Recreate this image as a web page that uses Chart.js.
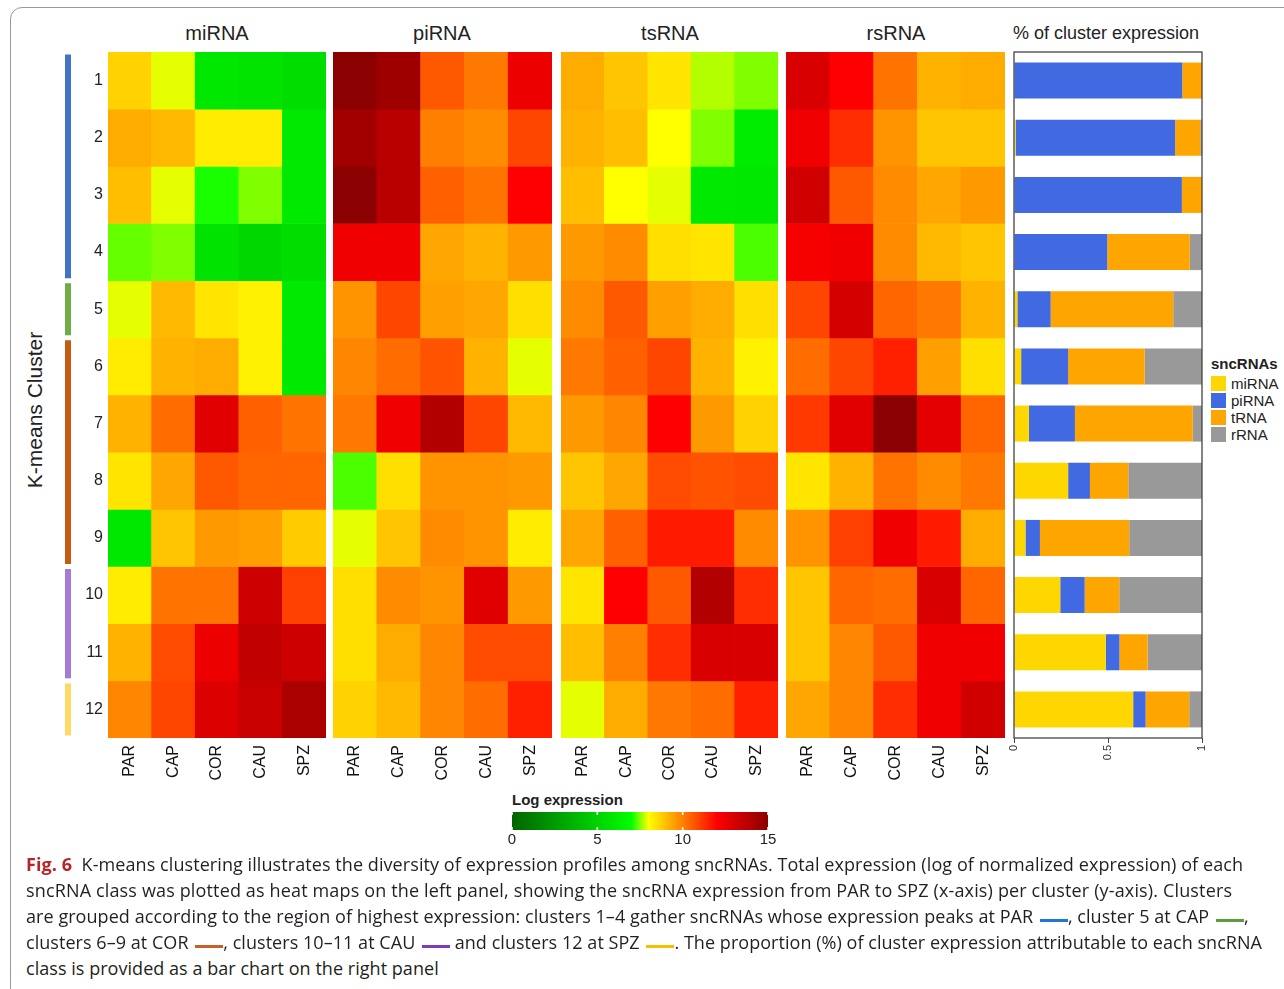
<!DOCTYPE html>
<html lang="en">
<head>
<meta charset="UTF-8">
<title>Fig. 6 K-means clusters of sncRNA expression</title>
<script src="https://cdn.jsdelivr.net/npm/chart.js"></script>
<style>
  body { margin: 0; width: 1284px; height: 989px; overflow: hidden; background: #fff; position: relative; font-family: "Liberation Sans", Arial, sans-serif; color: #222; }
  .frame { position: absolute; left: 10px; top: 7px; width: 1320px; height: 1020px; border: 1px solid #9a9a9a; border-radius: 12px; }
  .abs { position: absolute; }
  canvas { position: absolute; }
  .ptitle { position: absolute; top: 22px; font-size: 20px; text-align: center; width: 218px; }
  .ylab { position: absolute; left: 35px; top: 410px; font-size: 21px; transform: translate(-50%, -50%) rotate(-90deg); white-space: nowrap; }
  .legend { position: absolute; left: 1211px; top: 355px; font-size: 15px; line-height: 17px; }
  .legend b { display: block; margin-bottom: 3px; }
  .legend span.sw { display: inline-block; width: 15px; height: 15px; vertical-align: -2px; margin-right: 5px; }
  .cap { position: absolute; left: 26px; white-space: nowrap; font-family: "Open Sans", sans-serif; font-size: 18px; line-height: 26px; color: #231f20; }
  .cap .fig { color: #b5262b; font-weight: bold; }
  .cap .ln { display: inline-block; width: 28px; height: 3px; vertical-align: 1px; margin-left: 2px; }
</style>
</head>
<body>
<div class="frame"></div>

<div class="ptitle" style="left:108px">miRNA</div>
<div class="ptitle" style="left:333px">piRNA</div>
<div class="ptitle" style="left:561px">tsRNA</div>
<div class="ptitle" style="left:787px">rsRNA</div>
<div class="abs" style="left:1013px; top:23px; font-size:18px;">% of cluster expression</div>
<div class="ylab">K-means Cluster</div>
<div class="legend" id="legend"><b>sncRNAs</b></div>
<div class="abs" style="left:512px; top:791px; font-size:15px; font-weight:bold;">Log expression</div>

<canvas id="groups" width="6" height="686" style="left:65px; top:52px"></canvas>
<canvas id="hm0" width="263" height="736" style="left:63px; top:52px"></canvas>
<canvas id="hm1" width="219" height="736" style="left:333px; top:52px"></canvas>
<canvas id="hm2" width="217" height="736" style="left:561px; top:52px"></canvas>
<canvas id="hm3" width="219" height="736" style="left:786px; top:52px"></canvas>
<canvas id="share" width="204" height="720" style="left:1006px; top:50px"></canvas>
<canvas id="cbar" width="272" height="42" style="left:504px; top:812px"></canvas>

<div class="cap" style="top:851px" data-w="1217"><span class="fig">Fig. 6</span>&nbsp; K-means clustering illustrates the diversity of expression profiles among sncRNAs. Total expression (log of normalized expression) of each</div>
<div class="cap" style="top:877px" data-w="1206">sncRNA class was plotted as heat maps on the left panel, showing the sncRNA expression from PAR to SPZ (x-axis) per cluster (y-axis). Clusters</div>
<div class="cap" style="top:903px" data-w="1223">are grouped according to the region of highest expression: clusters 1–4 gather sncRNAs whose expression peaks at PAR <span class="ln" style="background:#1f78d1"></span>, cluster 5 at CAP <span class="ln" style="background:#5b9c3d"></span>,</div>
<div class="cap" style="top:929px" data-w="1236">clusters 6–9 at COR <span class="ln" style="background:#c8602a"></span>, clusters 10–11 at CAU <span class="ln" style="background:#7d3cb8"></span> and clusters 12 at SPZ <span class="ln" style="background:#f5c000"></span>. The proportion (%) of cluster expression attributable to each sncRNA</div>
<div class="cap" style="top:955px" data-w="413">class is provided as a bar chart on the right panel</div>

<script>
// regions along the duct and the 12 k-means clusters
const regions = ['PAR', 'CAP', 'COR', 'CAU', 'SPZ'];
const clusters = ['1', '2', '3', '4', '5', '6', '7', '8', '9', '10', '11', '12'];

// log expression, one row per cluster, one column per region
const miRNA = [
  [8.7, 7.9, 5.9, 5.8, 5.5],
  [9.3, 9.1, 8.3, 8.3, 6.0],
  [9.0, 7.9, 7.1, 7.5, 6.0],
  [7.4, 7.5, 5.7, 5.2, 5.5],
  [7.9, 9.1, 8.4, 8.2, 6.0],
  [8.3, 9.2, 9.3, 8.2, 6.0],
  [9.2, 10.3, 12.8, 10.5, 10.2],
  [8.4, 9.4, 10.6, 10.4, 10.4],
  [5.9, 8.9, 9.6, 9.5, 8.8],
  [8.3, 10.2, 10.2, 13.3, 11.0],
  [9.2, 10.8, 12.5, 13.6, 13.3],
  [9.9, 10.9, 12.9, 13.4, 14.2]
];
const piRNA = [
  [15.0, 14.5, 10.6, 10.1, 12.5],
  [14.4, 13.8, 10.0, 9.8, 10.9],
  [15.0, 13.8, 10.5, 10.2, 12.0],
  [12.4, 12.4, 9.4, 9.2, 9.6],
  [9.7, 10.9, 9.5, 9.4, 8.5],
  [9.9, 10.3, 10.7, 9.2, 7.9],
  [10.1, 12.4, 14.0, 10.9, 9.1],
  [7.3, 8.5, 9.7, 9.7, 9.6],
  [7.9, 8.9, 9.8, 9.7, 8.3],
  [8.5, 9.8, 9.7, 12.8, 9.6],
  [8.5, 9.3, 9.9, 10.8, 10.8],
  [8.7, 9.1, 9.9, 10.3, 11.5]
];
const tsRNA = [
  [9.3, 8.9, 8.4, 7.7, 7.5],
  [9.2, 9.0, 8.0, 7.5, 6.2],
  [9.0, 8.0, 7.9, 6.0, 5.9],
  [9.6, 9.8, 8.5, 8.4, 7.3],
  [9.8, 10.6, 9.5, 9.3, 8.5],
  [10.1, 10.5, 10.9, 9.2, 8.2],
  [9.6, 9.9, 12.0, 9.6, 8.7],
  [8.9, 9.4, 10.8, 10.7, 10.8],
  [9.4, 10.5, 11.6, 11.6, 9.8],
  [8.4, 12.0, 10.6, 14.0, 11.3],
  [9.0, 10.0, 11.3, 13.0, 13.0],
  [7.9, 9.3, 10.1, 10.3, 11.5]
];
const rsRNA = [
  [13.0, 12.0, 10.2, 9.2, 9.3],
  [12.4, 11.3, 9.7, 8.9, 8.9],
  [13.2, 10.6, 9.8, 9.4, 9.6],
  [12.2, 12.4, 9.8, 9.1, 8.9],
  [10.9, 13.1, 10.4, 10.1, 9.2],
  [10.3, 10.9, 11.5, 9.5, 8.5],
  [11.1, 12.8, 15.0, 12.7, 10.4],
  [8.4, 9.2, 10.2, 9.8, 10.1],
  [9.7, 11.0, 12.4, 11.6, 9.3],
  [8.9, 10.4, 10.3, 13.0, 10.4],
  [8.9, 9.9, 10.6, 12.4, 12.4],
  [9.4, 9.9, 11.3, 12.4, 13.2]
];

// share of each cluster's expression per sncRNA class
const shareNames = ['miRNA', 'piRNA', 'tRNA', 'rRNA'];
const shareColors = ['#ffd700', '#4169e1', '#ffa500', '#999999'];
const shareMiRNA = [0, 0.009, 0, 0, 0.018, 0.038, 0.079, 0.288, 0.061, 0.246, 0.488, 0.634];
const sharePiRNA = [0.895, 0.848, 0.893, 0.496, 0.177, 0.25, 0.245, 0.116, 0.077, 0.13, 0.073, 0.066];
const shareTRNA = [0.105, 0.134, 0.107, 0.439, 0.652, 0.407, 0.627, 0.204, 0.475, 0.184, 0.15, 0.232];
const shareRRNA = [0, 0.009, 0, 0.066, 0.155, 0.307, 0.05, 0.393, 0.388, 0.44, 0.29, 0.068];
const shareTicks = [0, 0.5, 1];

// cluster groups by region of peak expression (row ranges)
const groupRanges = [[0, 4], [4, 5], [5, 9], [9, 11], [11, 12]];
const groupColors = ['#4472c4', '#70ad47', '#c55a11', '#a57bd4', '#ffd966'];

// colour scale for log expression
const scaleStops = [[0, [0, 100, 0]], [7, [0, 255, 0]], [8, [255, 255, 0]], [12, [255, 0, 0]], [15, [139, 0, 0]]];
const cbarTicks = [0, 5, 10, 15];

function logColor(v) {
  for (let i = 1; i < scaleStops.length; i++) {
    const [v0, c0] = scaleStops[i - 1];
    const [v1, c1] = scaleStops[i];
    if (v <= v1 || i === scaleStops.length - 1) {
      const t = Math.max(0, Math.min(1, (v - v0) / (v1 - v0)));
      const c = c0.map((x, k) => Math.round(x + (c1[k] - x) * t));
      return `rgb(${c[0]},${c[1]},${c[2]})`;
    }
  }
}

Chart.defaults.font.family = '"Liberation Sans", Arial, sans-serif';
Chart.defaults.color = '#222';
const noPlugins = { legend: { display: false }, tooltip: { enabled: false } };

function heatmap(id, values, showRows) {
  const scales = {
    x: {
      stacked: true,
      grid: { display: false, drawTicks: false },
      border: { display: false },
      ticks: { font: { size: 16 }, minRotation: 90, maxRotation: 90, padding: 7, color: '#111' },
      afterFit: s => { s.height = 50; s.paddingLeft = 0; s.paddingRight = 0; }
    },
    y: { stacked: true, reverse: true, min: 0, max: 12, display: false }
  };
  if (showRows) {
    scales.rows = {
      type: 'category', labels: clusters, position: 'left', offset: true,
      grid: { display: false, drawTicks: false }, border: { display: false },
      ticks: { font: { size: 16 }, padding: 5, color: '#222' },
      afterFit: s => { s.width = 45; s.paddingTop = 0; s.paddingBottom = 0; }
    };
  }
  new Chart(document.getElementById(id), {
    type: 'bar',
    data: {
      labels: regions,
      datasets: clusters.map((c, i) => ({
        label: c,
        data: regions.map(() => 1),
        backgroundColor: values[i].map(logColor),
        borderWidth: 0,
        barPercentage: 1,
        categoryPercentage: 1
      }))
    },
    options: { responsive: false, animation: false, plugins: noPlugins, layout: { padding: 0 }, scales }
  });
}

heatmap('hm0', miRNA, true);
heatmap('hm1', piRNA, false);
heatmap('hm2', tsRNA, false);
heatmap('hm3', rsRNA, false);

// group markers left of the heatmaps
new Chart(document.getElementById('groups'), {
  type: 'bar',
  data: {
    labels: ['g'],
    datasets: groupRanges.map((r, i) => ({
      data: [[r[0] + 0.05, r[1] - 0.05]],
      backgroundColor: groupColors[i],
      barPercentage: 1, categoryPercentage: 1, grouped: false
    }))
  },
  options: {
    responsive: false, animation: false, plugins: noPlugins,
    scales: { x: { display: false }, y: { min: 0, max: 12, reverse: true, display: false } }
  }
});

// stacked share bars
const frame = {
  id: 'frame',
  afterDraw(chart) {
    const { ctx, chartArea: a } = chart;
    ctx.save();
    ctx.strokeStyle = '#444';
    ctx.lineWidth = 1.3;
    ctx.strokeRect(a.left, a.top, a.right - a.left, a.bottom - a.top);
    ctx.restore();
  }
};
new Chart(document.getElementById('share'), {
  type: 'bar',
  data: {
    labels: clusters,
    datasets: [shareMiRNA, sharePiRNA, shareTRNA, shareRRNA].map((d, i) => ({
      label: shareNames[i], data: d, backgroundColor: shareColors[i],
      borderWidth: 0, barPercentage: 0.63, categoryPercentage: 1
    }))
  },
  options: {
    indexAxis: 'y', responsive: false, animation: false, plugins: noPlugins,
    layout: { padding: { left: 8, right: 8, top: 2, bottom: 0 } },
    scales: {
      x: {
        stacked: true, min: 0, max: 1,
        grid: { drawOnChartArea: false, tickLength: 5, color: '#444' },
        border: { display: false },
        afterBuildTicks: s => { s.ticks = shareTicks.map(v => ({ value: v })); },
        ticks: { font: { size: 11 }, minRotation: 90, maxRotation: 90, padding: 2, color: '#333', callback: v => String(v) },
        afterFit: s => { s.height = 32; s.paddingLeft = 0; s.paddingRight = 0; }
      },
      y: { stacked: true, display: false }
    }
  },
  plugins: [frame]
});

// colour key
const cbarMarks = {
  id: 'cbarMarks',
  afterDatasetsDraw(chart) {
    const { ctx, chartArea: a, scales: { x } } = chart;
    ctx.save();
    ctx.strokeStyle = '#fff';
    ctx.lineWidth = 1.5;
    cbarTicks.forEach(v => {
      const px = x.getPixelForValue(v);
      ctx.beginPath();
      ctx.moveTo(px, a.top); ctx.lineTo(px, a.top + 3);
      ctx.moveTo(px, a.bottom - 3); ctx.lineTo(px, a.bottom);
      ctx.stroke();
    });
    ctx.restore();
  }
};
new Chart(document.getElementById('cbar'), {
  type: 'bar',
  data: {
    labels: ['key'],
    datasets: [{
      data: [15],
      backgroundColor: ctx => {
        const { chart } = ctx;
        if (!chart.chartArea) return null;
        const x = chart.scales.x;
        const g = chart.ctx.createLinearGradient(x.getPixelForValue(0), 0, x.getPixelForValue(15), 0);
        for (let v = 0; v <= 15; v += 0.5) g.addColorStop(v / 15, logColor(v));
        return g;
      },
      barPercentage: 1, categoryPercentage: 1, borderWidth: 0
    }]
  },
  options: {
    indexAxis: 'y', responsive: false, animation: false, plugins: noPlugins,
    layout: { padding: { left: 8, right: 8, top: 0, bottom: 0 } },
    scales: {
      x: {
        min: 0, max: 15,
        grid: { display: false, drawTicks: false }, border: { display: false },
        afterBuildTicks: s => { s.ticks = cbarTicks.map(v => ({ value: v })); },
        ticks: { font: { size: 15 }, padding: 1, color: '#222' },
        afterFit: s => { s.height = 24; s.paddingLeft = 0; s.paddingRight = 0; }
      },
      y: { display: false }
    },
  },
  plugins: [cbarMarks]
});

// legend for the share bars
const legend = document.getElementById('legend');
shareNames.forEach((n, i) => {
  const row = document.createElement('div');
  row.innerHTML = `<span class="sw" style="background:${shareColors[i]}"></span>${n}`;
  legend.appendChild(row);
});

// stretch caption lines to their measured widths
document.querySelectorAll('.cap').forEach(el => {
  const target = +el.dataset.w;
  const chars = el.textContent.length;
  const diff = target - el.offsetWidth;
  el.style.letterSpacing = (diff / chars) + 'px';
});
</script>
</body>
</html>
